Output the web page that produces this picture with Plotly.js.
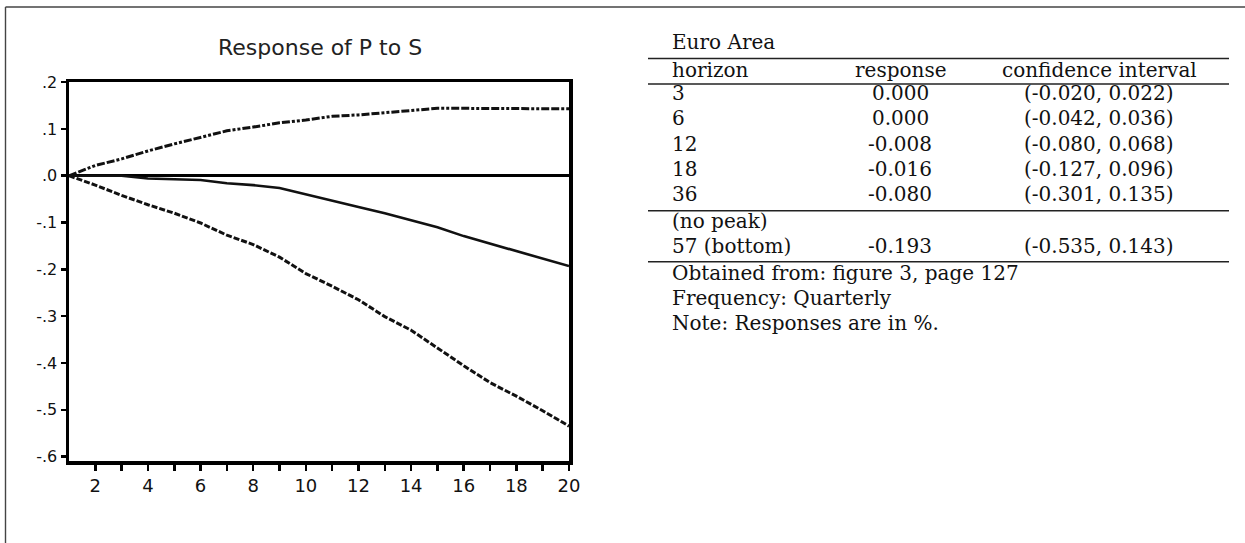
<!DOCTYPE html>
<html>
<head>
<meta charset="utf-8">
<script src="https://cdn.plot.ly/plotly-3.0.1.min.js"></script>
<style>html,body{margin:0;padding:0;background:#fff;}#chart{width:1245px;height:543px;}</style>
</head>
<body>
<div id="chart"></div>
<script>
// ---- chart data (quarters after the shock) ----
const quarters = [1,2,3,4,5,6,7,8,9,10,11,12,13,14,15,16,17,18,19,20];
const response = [0, 0.000, 0.000, -0.006, -0.008, -0.009, -0.016, -0.020, -0.026, -0.040, -0.053, -0.067, -0.080, -0.095, -0.110, -0.129, -0.145, -0.162, -0.177, -0.193];
const upperBand = [0, 0.022, 0.036, 0.053, 0.068, 0.082, 0.096, 0.104, 0.113, 0.119, 0.127, 0.130, 0.135, 0.140, 0.144, 0.144, 0.144, 0.144, 0.144, 0.143];
const lowerBand = [0, -0.020, -0.042, -0.062, -0.080, -0.101, -0.127, -0.147, -0.174, -0.209, -0.236, -0.265, -0.301, -0.330, -0.368, -0.406, -0.442, -0.471, -0.502, -0.535];
const yTickVals = [0.2, 0.1, 0, -0.1, -0.2, -0.3, -0.4, -0.5, -0.6];
const yTickText = ['.2', '.1', '.0', '-.1', '-.2', '-.3', '-.4', '-.5', '-.6'];
const xTickVals = [2,3,4,5,6,7,8,9,10,11,12,13,14,15,16,17,18,19,20];
const xTickText = ['2','','4','','6','','8','','10','','12','','14','','16','','18','','20'];
const chartTitle = 'Response of P to S';

// ---- table data ----
const tableTitle = 'Euro Area';
const tableHeader = ['horizon', 'response', 'confidence interval'];
const tableHorizons = ['3', '6', '12', '18', '36'];
const tableResponses = ['0.000', '0.000', '-0.008', '-0.016', '-0.080'];
const tableIntervals = ['(-0.020, 0.022)', '(-0.042, 0.036)', '(-0.080, 0.068)', '(-0.127, 0.096)', '(-0.301, 0.135)'];
const peakLabel = '(no peak)';
const bottomRow = ['57 (bottom)', '-0.193', '(-0.535, 0.143)'];
const noteLines = ['Obtained from: figure 3, page 127', 'Frequency: Quarterly', 'Note: Responses are in %.'];

// ---- geometry helpers (pixel -> paper) ----
const W = 1245, H = 543, L = 69, T = 82, PW = 500, PH = 379;
const px = x => (x - L) / PW;
const py = y => (T + PH - y) / PH;

const ink = '#111';
const serif = {family: 'DejaVu Serif', size: 20, color: ink};
const fs = serif.size;
const mid = base => py(base - 0.346 * fs);

const annotations = [];
const shapes = [];

// chart title
annotations.push({text: chartTitle, xref: 'paper', yref: 'paper', x: px(320), y: py(47.5),
  xanchor: 'center', yanchor: 'middle', showarrow: false,
  font: {family: 'DejaVu Sans', size: 22, color: '#222'}});

// table text
const colL = 670, colR = 900, colC = 1099;
function addText(txt, x, base, anchor) {
  annotations.push({text: txt, xref: 'paper', yref: 'paper', x: px(x), y: mid(base),
    xanchor: anchor, yanchor: 'middle', showarrow: false, font: serif});
}
addText(tableTitle, colL, 49, 'left');
addText(tableHeader[0], colL, 76.5, 'left');
addText(tableHeader[1], colR, 76.5, 'center');
addText(tableHeader[2], colC, 76.5, 'center');
const rowBase = [100, 125.3, 150.5, 175.8, 201];
tableHorizons.forEach((h, i) => {
  addText(h, colL, rowBase[i], 'left');
  addText(tableResponses[i], colR, rowBase[i], 'center');
  addText(tableIntervals[i], colC, rowBase[i], 'center');
});
addText(peakLabel, colL, 227.5, 'left');
addText(bottomRow[0], colL, 253, 'left');
addText(bottomRow[1], colR, 253, 'center');
addText(bottomRow[2], colC, 253, 'center');
const noteBase = [279.5, 304.5, 329.5];
noteLines.forEach((t, i) => addText(t, colL, noteBase[i], 'left'));

// table rules
[58.5, 84, 210.7, 261.7].forEach(y => {
  shapes.push({type: 'line', xref: 'paper', yref: 'paper', x0: px(648), x1: px(1229), y0: py(y), y1: py(y),
    line: {color: '#222', width: 1.4}});
});

// outer frame (top and left edges)
shapes.push({type: 'line', xref: 'paper', yref: 'paper', x0: px(5.5), x1: px(1245), y0: py(7), y1: py(7),
  line: {color: '#444', width: 1.4}});
shapes.push({type: 'line', xref: 'paper', yref: 'paper', x0: px(5.5), x1: px(5.5), y0: py(7), y1: py(543),
  line: {color: '#444', width: 1.4}});

const traces = [
  {x: quarters, y: upperBand, type: 'scatter', mode: 'lines', name: 'upper',
   line: {color: ink, width: 3, dash: '8px,2px,8px,2px,3px,2px,3px,2px'}},
  {x: quarters, y: response, type: 'scatter', mode: 'lines', name: 'response',
   line: {color: ink, width: 2.6}},
  {x: quarters, y: lowerBand, type: 'scatter', mode: 'lines', name: 'lower',
   line: {color: ink, width: 3, dash: '6px,2px'}}
];

const layout = {
  width: W, height: H,
  margin: {l: L, r: W - L - PW, t: T, b: H - T - PH, pad: 0},
  paper_bgcolor: '#fff', plot_bgcolor: '#fff',
  showlegend: false,
  xaxis: {range: [1, 20], tickmode: 'array', tickvals: xTickVals, ticktext: xTickText,
    ticks: 'outside', ticklen: 6, tickwidth: 2.5, tickcolor: '#000',
    showline: true, mirror: true, linewidth: 3.5, linecolor: '#000',
    showgrid: false, zeroline: false,
    tickfont: {family: 'DejaVu Sans', size: 18, color: ink}},
  yaxis: {range: [-0.6095, 0.2003], tickmode: 'array', tickvals: yTickVals, ticktext: yTickText,
    ticks: 'outside', ticklen: 5, tickwidth: 2.5, tickcolor: '#000',
    showline: true, mirror: true, linewidth: 3.5, linecolor: '#000',
    showgrid: false, zeroline: true, zerolinecolor: '#000', zerolinewidth: 3,
    tickfont: {family: 'DejaVu Sans', size: 16, color: ink}},
  annotations: annotations,
  shapes: shapes
};

Plotly.newPlot('chart', traces, layout, {staticPlot: true, displayModeBar: false});
</script>
</body>
</html>
